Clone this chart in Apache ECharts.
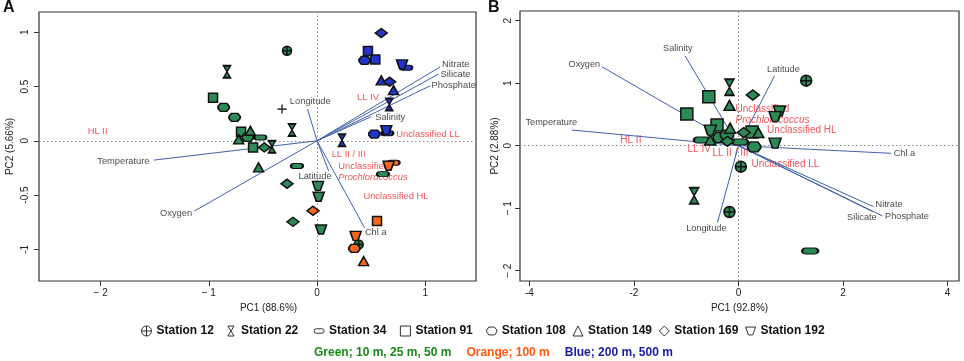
<!DOCTYPE html>
<html>
<head>
<meta charset="utf-8">
<script src="https://cdn.jsdelivr.net/npm/echarts@6/dist/echarts.min.js"></script>
<style>
  html, body { margin: 0; padding: 0; background: #fff; }
  #chart { width: 964px; height: 361px; }
</style>
</head>
<body>
<div id="chart"></div>
<script>
const stations = ['Station 12', 'Station 22', 'Station 34', 'Station 91', 'Station 108', 'Station 149', 'Station 169', 'Station 192']

// sample scores [PC1, PC2, depth]  g = 10/25/50 m, o = 100 m, b = 200/500 m
const st12A = [[-0.277, 0.83, 'g'], [0.385, -0.955, 'g']]
const st22A = [[-0.832, 0.636, 'g'], [-0.416, -0.055, 'g'], [-0.231, 0.099, 'g'], [0.668, 0.335, 'b'], [0.231, 0.006, 'b']]
const st34A = [[-0.524, 0.031, 'g'], [-0.185, -0.233, 'g'], [0.61, -0.307, 'g'], [0.708, -0.203, 'o'], [0.825, 0.673, 'b'], [0.65, 0.07, 'b']]
const st91A = [[-0.961, 0.396, 'g'], [-0.702, 0.083, 'g'], [-0.591, -0.061, 'g'], [0.555, -0.74, 'o'], [0.471, 0.827, 'b'], [0.539, 0.75, 'b']]
const st108A = [[-0.863, 0.308, 'g'], [-0.762, 0.216, 'g'], [-0.641, 0.031, 'g'], [0.345, -0.992, 'o'], [0.44, 0.741, 'b'], [0.53, 0.062, 'b']]
const st149A = [[-0.616, 0.092, 'g'], [-0.724, 0.013, 'g'], [-0.54, -0.245, 'g'], [0.431, -1.109, 'o'], [0.594, 0.557, 'b'], [0.708, 0.467, 'b']]
const st169A = [[-0.487, -0.061, 'g'], [-0.277, -0.396, 'g'], [-0.222, -0.747, 'g'], [-0.037, -0.645, 'o'], [0.594, 0.993, 'b'], [0.671, 0.544, 'b']]
const st192A = [[0.009, -0.415, 'g'], [0.015, -0.516, 'g'], [0.037, -0.817, 'g'], [0.357, -0.876, 'o'], [0.662, -0.23, 'o'], [0.786, 0.704, 'b'], [0.64, 0.099, 'b']]
const centroidA = [[-0.323, 0.292]]

const st12B = [[1.296, 1.04, 'g'], [0.046, -0.336, 'g'], [-0.172, -1.061, 'g']]
const st22B = [[-0.172, 0.934, 'g'], [-0.848, -0.8, 'g']]
const st34B = [[-0.7, 0.09, 'g'], [0.03, 0.06, 'g'], [1.372, -1.685, 'g']]
const st91B = [[-0.567, 0.784, 'g'], [-0.988, 0.507, 'g'], [-0.41, 0.33, 'g'], [0.26, 0.22, 'g']]
const st108B = [[-0.36, 0.13, 'g'], [0.3, -0.02, 'g'], [-0.22, 0.17, 'g']]
const st149B = [[-0.172, 0.646, 'g'], [-0.16, 0.28, 'g'], [0.38, 0.21, 'g'], [-0.54, 0.09, 'g']]
const st169B = [[0.275, 0.811, 'g'], [-0.21, 0.07, 'g'], [0.1, 0.21, 'g']]
const st192B = [[0.785, 0.555, 'g'], [0.702, 0.464, 'g'], [0.7, 0.04, 'g'], [-0.54, 0.25, 'g']]

// environmental loadings (arrow tips) and where their names sit
const arrowsA = [['Nitrate', 1.14, 0.682], ['Silicate', 1.124, 0.615], ['Phosphate', 1.047, 0.507], ['Salinity', 0.499, 0.221],
  ['Longitude', -0.087, 0.292], ['Temperature', -1.51, -0.178], ['Oxygen', -1.134, -0.648], ['Latitude', 0.107, -0.276], ['Chl a', 0.44, -0.802]]
const varTextA = [['Nitrate', 1.283, 0.707], ['Silicate', 1.281, 0.608], ['Phosphate', 1.264, 0.507], ['Salinity', 0.677, 0.212],
  ['Longitude', -0.062, 0.363], ['Temperature', -1.79, -0.187], ['Oxygen', -1.303, -0.669], ['Latitude', -0.018, -0.328], ['Chl a', 0.543, -0.844]]
const cladeTextA = [['HL II', -2.028, 0.083], ['LL IV', 0.471, 0.4], ['Unclassified LL', 1.026, 0.059], ['LL II / III', 0.292, -0.123],
  ['Unclassified\nProchlorococcus', 0.517, -0.288], ['Unclassified HL', 0.73, -0.516]]

const arrowsB = [['Oxygen', -2.614, 1.264], ['Salinity', -1.02, 1.435], ['Temperature', -3.189, 0.251], ['Latitude', 0.689, 1.115],
  ['Longitude', -0.402, -1.232], ['Chl a', 2.923, -0.122], ['Nitrate', 2.584, -0.976], ['Phosphate', 2.756, -1.125], ['Silicate', 2.572, -1.056]]
const varTextB = [['Oxygen', -2.949, 1.302], ['Salinity', -1.16, 1.558], ['Latitude', 0.861, 1.227], ['Temperature', -3.581, 0.374],
  ['Chl a', 3.175, -0.122], ['Nitrate', 2.881, -0.933], ['Phosphate', 3.225, -1.136], ['Silicate', 2.361, -1.152], ['Longitude', -0.615, -1.322]]
const cladeTextB = [['HL II', -2.059, 0.091], ['LL IV', -0.752, -0.058], ['LL II / III', -0.153, -0.122],
  ['Unclassified\nProchlorococcus', 0.651, 0.499], ['Unclassified HL', 1.213, 0.251], ['Unclassified LL', 0.9, -0.293]]

const ticksAx = [-2, -1, 0, 1]
const ticksAy = [-1, -0.5, 0, 0.5, 1]
const ticksBx = [-4, -2, 0, 2, 4]
const ticksBy = [-2, -1, 0, 1, 2]

const pointsA = [st12A, st22A, st34A, st91A, st108A, st149A, st169A, st192A]
const pointsB = [st12B, st22B, st34B, st91B, st108B, st149B, st169B, st192B]

const depthColor = { g: '#2b8a55', o: '#f3661d', b: '#2136c8' }
const symbols = [
  'path://M10,0A10,10,0,1,1,10,20A10,10,0,1,1,10,0ZM0,10L20,10M10,0L10,20',
  'path://M0,0L10,0L0,16L10,16Z',
  'path://M4,0L14,0A4,4,0,0,1,14,8L4,8A4,4,0,0,1,4,0Z',
  'rect',
  'path://M3,0L11,0L14,4L14,7L11,11L3,11L0,7L0,4Z',
  'triangle',
  'diamond',
  'path://M0,0L14,0L10,11L4,11Z'
]
const sizeA = [[9, 9], [7, 12], [12, 5], [9, 9], [11, 8], [10, 9], [12, 9], [11, 9]]
const sizeB = [[11, 11], [9, 16], [16, 6], [12, 12], [13, 10], [11, 10], [13, 10], [12, 10]]

const arrowColor = '#3f61ad'
const cladeColor = '#ee2a2e'
const font = 'Liberation Sans, Arial'

const chart = echarts.init(document.getElementById('chart'))

const minus = (v, gap) => (v < 0 ? '\u2212' + gap + Math.abs(v) : String(v))

function axisPair(idx, xr, yr, xt, yt, xName, yName, fmtX, fmtY, yMargin, xNamePad, yNameGap) {
  const common = {
    type: 'value',
    gridIndex: idx,
    splitLine: { show: false },
    axisLine: { show: false, onZero: false },
    axisTick: { show: true, length: 5, lineStyle: { color: '#333' } },
    nameLocation: 'middle',
    nameTextStyle: { fontSize: 10, color: '#222', fontFamily: font }
  }
  const x = Object.assign({}, common, {
    min: xr[0], max: xr[1], name: xName, nameGap: 16,
    nameTextStyle: Object.assign({}, common.nameTextStyle, { padding: [0, 0, 0, xNamePad] }),
    axisTick: Object.assign({}, common.axisTick, { customValues: xt }),
    axisLabel: { customValues: xt, fontSize: 10, color: '#222', margin: 7, formatter: fmtX, fontFamily: font }
  })
  const y = Object.assign({}, common, {
    min: yr[0], max: yr[1], name: yName, nameGap: yNameGap,
    axisTick: Object.assign({}, common.axisTick, { customValues: yt }),
    axisLabel: { customValues: yt, fontSize: 10, color: '#222', margin: yMargin, rotate: 90, formatter: fmtY, fontFamily: font }
  })
  return [x, y]
}

const [xA, yA] = axisPair(0, [-2.57, 1.47], [-1.292, 1.187], ticksAx, ticksAy, 'PC1 (88.6%)', 'PC2 (5.66%)',
  v => minus(v, ' '), v => String(v), 9, 22, 24)
const [xB, yB] = axisPair(1, [-4.18, 4.22], [-2.165, 2.155], ticksBx, ticksBy, 'PC1 (92.8%)', 'PC2 (2.88%)',
  v => String(v), v => minus(v, ' '), 7, 0, 20)

const series = []

function addPanel(idx, points, sizes, arrows, varText, cladeText, fontVar, fontClade) {
  // dotted zero lines
  series.push({
    type: 'scatter', xAxisIndex: idx, yAxisIndex: idx, data: [], silent: true, z: 1,
    markLine: {
      silent: true, symbol: 'none', label: { show: false },
      lineStyle: { type: [1.5, 2.5], color: '#8a8a8a', width: 1 },
      data: [{ xAxis: 0 }, { yAxis: 0 }]
    }
  })
  // loading arrows
  series.push({
    type: 'scatter', xAxisIndex: idx, yAxisIndex: idx, data: [], silent: true, z: 2,
    markLine: {
      silent: true, symbol: ['none', 'arrow'], symbolSize: [0, 5], label: { show: false },
      lineStyle: { type: 'solid', color: arrowColor, width: 1 },
      data: arrows.map(a => [{ coord: [0, 0] }, { coord: [a[1], a[2]] }])
    }
  })
  // variable names
  series.push({
    type: 'scatter', xAxisIndex: idx, yAxisIndex: idx, symbolSize: 0, silent: true, z: 3,
    label: { show: true, position: 'inside', formatter: p => p.name, color: '#151515', fontSize: fontVar, fontFamily: font },
    data: varText.map(t => ({ name: t[0], value: [t[1], t[2]] }))
  })
  // clade names (red)
  series.push({
    type: 'scatter', xAxisIndex: idx, yAxisIndex: idx, symbolSize: 0, silent: true, z: 3,
    label: {
      show: true, position: 'inside', color: cladeColor, fontSize: fontClade, fontFamily: font,
      formatter: p => {
        const parts = p.name.split('\n')
        return parts.length > 1 ? `{n|${parts[0]}}\n{i|${parts[1]}}` : p.name
      },
      rich: {
        n: { color: cladeColor, fontSize: fontClade, align: 'left', lineHeight: fontClade + 1, fontFamily: font },
        i: { color: cladeColor, fontSize: fontClade, align: 'left', fontStyle: 'italic', lineHeight: fontClade + 1, fontFamily: font }
      }
    },
    data: cladeText.map(t => ({ name: t[0], value: [t[1], t[2]] }))
  })
  // sample points by station
  stations.forEach((name, i) => {
    series.push({
      type: 'scatter', name, xAxisIndex: idx, yAxisIndex: idx, z: 5,
      symbol: symbols[i], symbolSize: sizes[i], symbolKeepAspect: false,
      itemStyle: { borderColor: '#111', borderWidth: 1.5, opacity: 1 },
      emphasis: { disabled: true },
      data: points[i].map(p => ({ value: [p[0], p[1]], itemStyle: { color: depthColor[p[2]] } }))
    })
  })
}

addPanel(0, pointsA, sizeA, arrowsA, varTextA, cladeTextA, 9.3, 9.4)
addPanel(1, pointsB, sizeB, arrowsB, varTextB, cladeTextB, 9.2, 10)

series.push({
  type: 'scatter', name: 'centroid', xAxisIndex: 0, yAxisIndex: 0, z: 6,
  symbol: 'path://M0,5L10,5M5,0L5,10', symbolSize: 9,
  itemStyle: { color: 'none', borderColor: '#111', borderWidth: 1.6 },
  data: centroidA
})

// one legend per station so the entries sit on an even pitch, like the R legend
const legends = stations.map((s, i) => ({
  data: [{ name: s, icon: symbols[i] }],
  left: 141 + 86.3 * i, top: 325, padding: 0,
  itemWidth: 10, itemHeight: 10, itemGap: 0,
  selectedMode: false,
  itemStyle: { color: 'rgba(0,0,0,0)', borderColor: '#333', borderWidth: 1 },
  textStyle: { fontSize: 12, fontWeight: 'bold', color: '#111', fontFamily: font }
}))

const option = {
  animation: false,
  backgroundColor: '#fff',
  title: [
    { text: 'A', left: 3, top: 0, padding: 0, textStyle: { fontSize: 16, fontWeight: 'bold', color: '#111', fontFamily: font } },
    { text: 'B', left: 488, top: 0, padding: 0, textStyle: { fontSize: 16, fontWeight: 'bold', color: '#111', fontFamily: font } },
    {
      text: '{g|Green; 10 m, 25 m, 50 m}{s|}{o|Orange; 100 m}{s|}{b|Blue; 200 m, 500 m}',
      left: 314, top: 344, padding: 0,
      textStyle: {
        rich: {
          g: { color: '#178a17', fontSize: 12, fontWeight: 'bold', fontFamily: font },
          o: { color: '#ff5a0a', fontSize: 12, fontWeight: 'bold', fontFamily: font },
          b: { color: '#1a1aa6', fontSize: 12, fontWeight: 'bold', fontFamily: font },
          s: { width: 15 }
        }
      }
    }
  ],
  legend: legends,
  grid: [
    { left: 39, top: 12, width: 437, height: 269, show: true, borderColor: '#333', borderWidth: 1.2, backgroundColor: '#fff' },
    { left: 520, top: 11, width: 439, height: 270, show: true, borderColor: '#333', borderWidth: 1.2, backgroundColor: '#fff' }
  ],
  xAxis: [xA, xB],
  yAxis: [yA, yB],
  series
}

chart.setOption(option)
</script>
</body>
</html>
